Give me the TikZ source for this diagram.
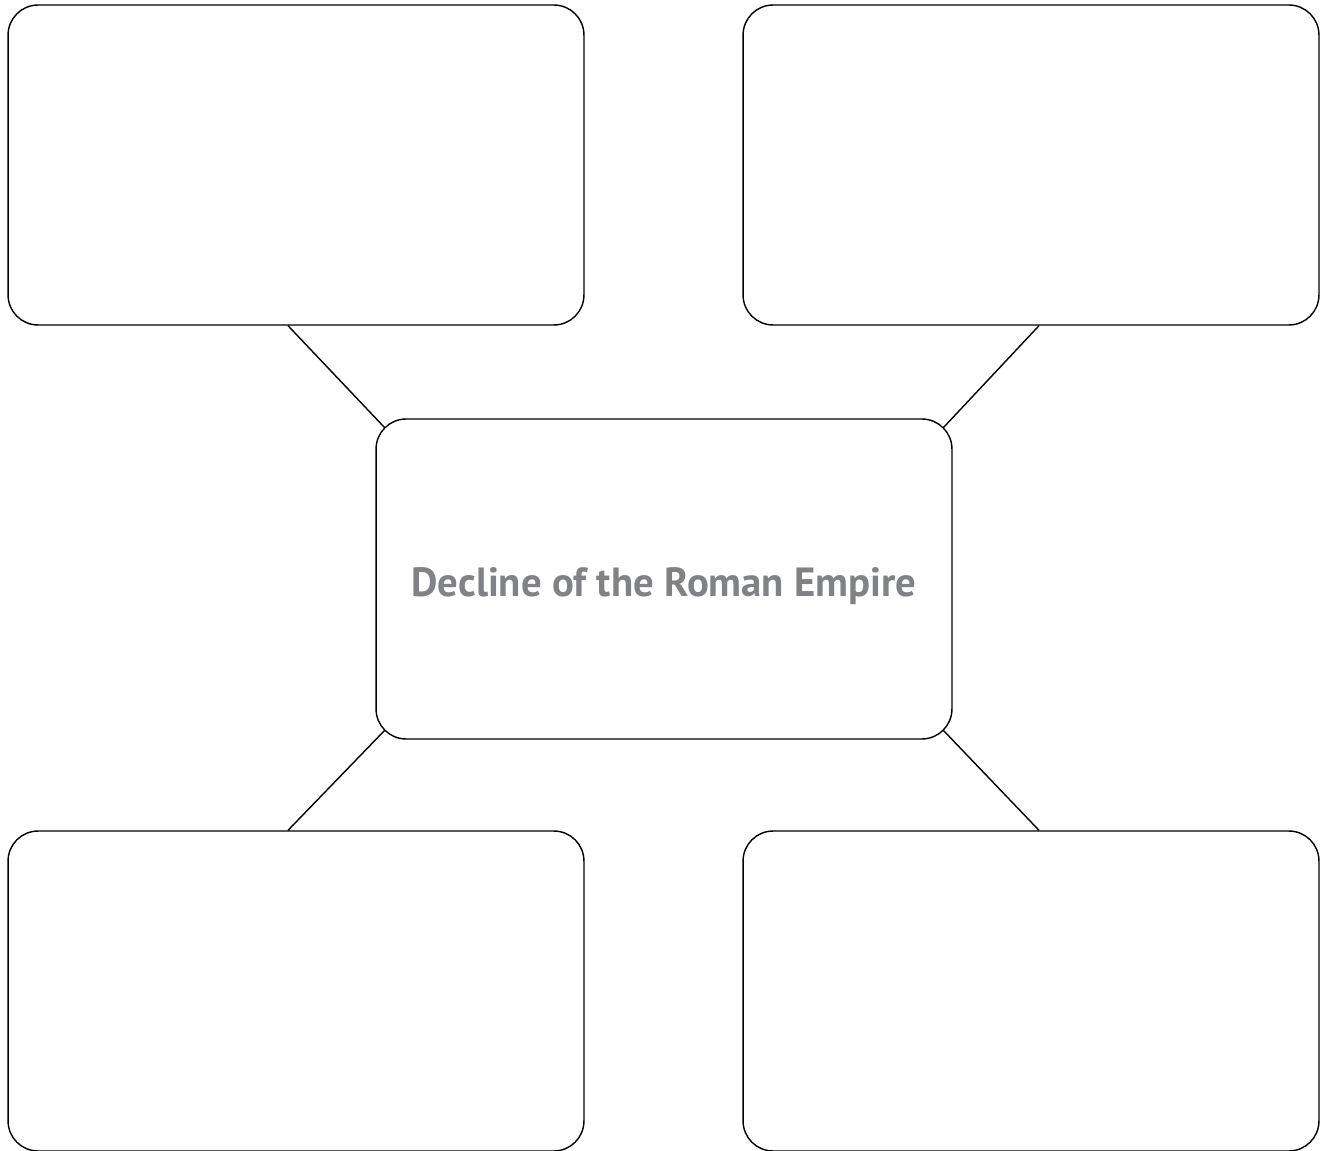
\documentclass[tikz,border=0pt]{standalone}
\usepackage{fontspec}
\setmainfont{PT Sans}
\usepackage{tikz}
\usetikzlibrary{positioning}
\usepackage{xcolor}
\definecolor{titlegray}{HTML}{808285}

\begin{document}
\begin{tikzpicture}[
    x=0.02cm, y=-0.02cm,
    every node/.style={font=\small},
    box/.style={draw, rounded corners=0.6cm, line width=0.8pt,
                minimum width=11.52cm, minimum height=6.4cm, inner sep=0pt},
    title/.style={font=\fontsize{23.2}{28}\selectfont\bfseries, text=titlegray},
    link/.style={line width=0.8pt}
]
    \useasboundingbox[fill=white] (0,0) rectangle (1324,1151);

    \node[box] (mid) at (664,579) {};
    \node[title] (topic) at ([yshift=-0.15cm]mid.center) {Decline of the Roman Empire};
    \node[box] (tl) at (296,165) {};
    \node[box] (tr) at (1031,165) {};
    \node[box] (bl) at (296,991) {};
    \node[box] (br) at (1031,991) {};

    \draw[link] ([xshift=-0.16cm]tl.south) -- ([shift={(0.18cm,-0.18cm)}]mid.north west);
    \draw[link] ([xshift=0.16cm]tr.south) -- ([shift={(-0.18cm,-0.18cm)}]mid.north east);
    \draw[link] ([xshift=-0.16cm]bl.north) -- ([shift={(0.18cm,0.18cm)}]mid.south west);
    \draw[link] ([xshift=0.16cm]br.north) -- ([shift={(-0.18cm,0.18cm)}]mid.south east);
\end{tikzpicture}
\end{document}
